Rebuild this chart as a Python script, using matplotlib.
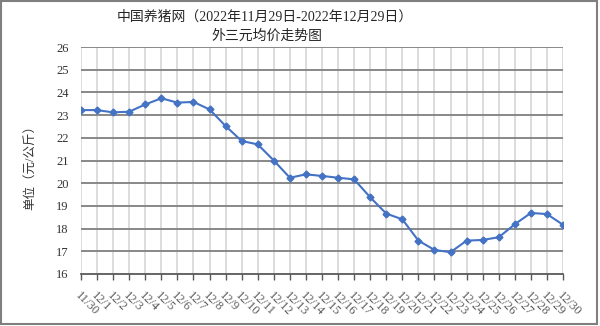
import matplotlib
matplotlib.use("Agg")
import matplotlib.pyplot as plt
from matplotlib.patches import Rectangle

# ---- data ----
DATES = ["11/30", "12/1", "12/2", "12/3", "12/4", "12/5", "12/6", "12/7", "12/8", "12/9",
         "12/10", "12/11", "12/12", "12/13", "12/14", "12/15", "12/16", "12/17", "12/18",
         "12/19", "12/20", "12/21", "12/22", "12/23", "12/24", "12/25", "12/26", "12/27",
         "12/28", "12/29", "12/30"]
PRICES = [23.22, 23.22, 23.12, 23.15, 23.47, 23.74, 23.55, 23.58, 23.25, 22.52,
          21.86, 21.71, 21.00, 20.24, 20.39, 20.32, 20.24, 20.17, 19.38, 18.66,
          18.41, 17.47, 17.06, 16.96, 17.47, 17.50, 17.62, 18.19, 18.69, 18.64, 18.17]
Y_TICKS = list(range(16, 27))

TITLE1 = "中国养猪网（2022年11月29日-2022年12月29日）"
TITLE2 = "外三元均价走势图"
Y_LABEL = "单位（元/公斤）"

CJK = ["Liberation Serif", "Noto Sans CJK SC", "DejaVu Sans"]
SERIF = ["Liberation Serif", "DejaVu Serif"]
LINE_COLOR = "#4472C4"

fig = plt.figure(figsize=(6, 3.26), dpi=100)
W, H = 600, 326
ax = fig.add_axes([81 / W, 1 - 274 / H, (563 - 81) / W, (274 - 47) / H])

x = list(range(len(DATES)))
ax.plot(x, PRICES, color=LINE_COLOR, linewidth=1.5, marker="D", markersize=3.5,
        markerfacecolor=LINE_COLOR, markeredgecolor=LINE_COLOR, zorder=3)

ax.set_xlim(0, len(DATES) - 1)
ax.set_ylim(16, 26)
ax.set_yticks(Y_TICKS)
ax.set_yticklabels([str(v) for v in Y_TICKS], fontfamily=SERIF, fontsize=9, color="#333333")
ax.set_xticks(x)
ax.set_xticklabels(DATES, rotation=-45, ha="left", va="top", rotation_mode="anchor",
                   fontfamily=SERIF, fontsize=9, color="#595959")
ax.tick_params(axis="y", length=0, pad=9)
ax.tick_params(axis="x", length=4, width=1, color="#595959", pad=7)

# grid: dark horizontal, light vertical
for v in Y_TICKS[1:]:
    ax.axhline(v, color="#7F7F7F", linewidth=1.3, zorder=1)
for xi in x:
    ax.axvline(xi, color="#D9D9D9", linewidth=1.3, zorder=0)

for s in ["top", "right", "left"]:
    ax.spines[s].set_visible(False)
ax.spines["bottom"].set_color("#595959")
ax.spines["bottom"].set_linewidth(1.3)

fig.text(265 / W, 1 - 17 / H, TITLE1, ha="center", va="center", fontsize=10,
         fontfamily=CJK, color="#262626")
fig.text(267 / W, 1 - 36 / H, TITLE2, ha="center", va="center", fontsize=10,
         fontfamily=CJK, color="#262626")
fig.text(30 / W, 1 - 165 / H, Y_LABEL, ha="center", va="center", rotation=90,
         fontsize=9, fontfamily=CJK, color="#333333")

# chart border
fig.patches.append(Rectangle((0.002, 0.006), 0.993, 0.99, transform=fig.transFigure,
                             fill=False, edgecolor="#7F7F7F", linewidth=1.5))

fig.savefig("out.png", dpi=100)
